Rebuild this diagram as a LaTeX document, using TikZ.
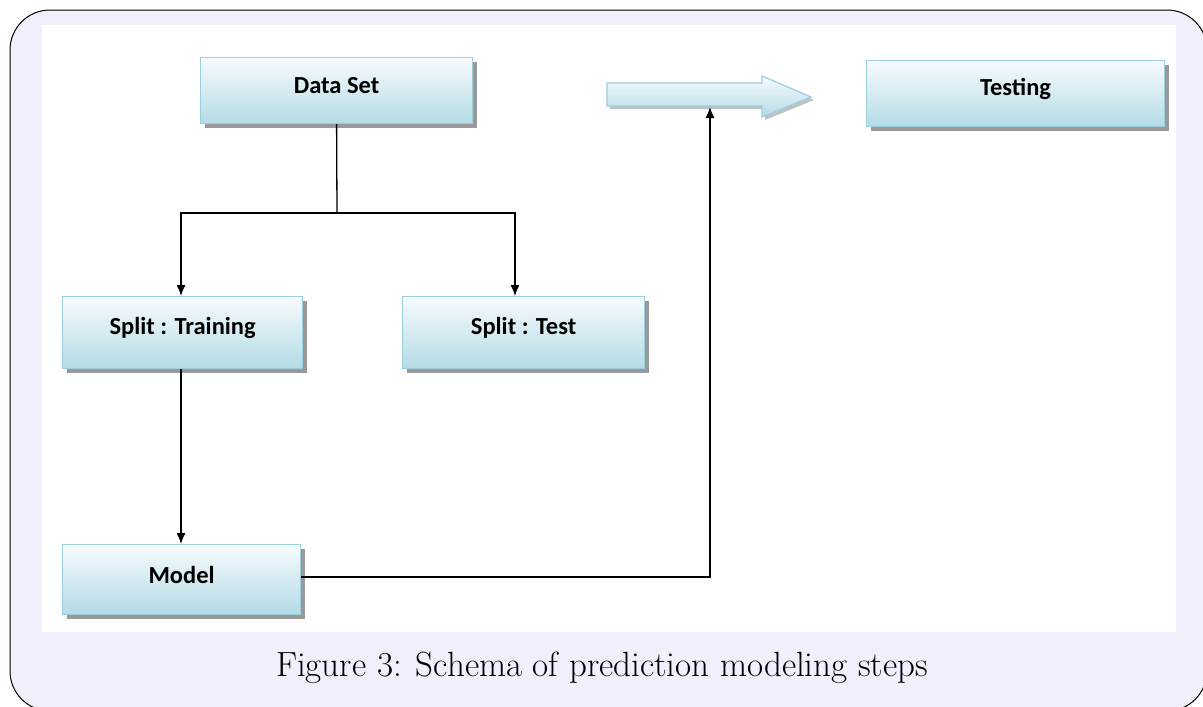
\documentclass[tikz,border=0pt]{standalone}
\usepackage{fontspec}
\newfontfamily\boxfont{Carlito}
\usetikzlibrary{shadows,arrows.meta}
\definecolor{pagebg}{HTML}{F0F0FC}
\definecolor{boxtop}{HTML}{F6FBFD}
\definecolor{boxbot}{HTML}{B4DBE6}
\definecolor{boxline}{HTML}{9ACFDF}
\tikzset{
  procbox/.style={draw=boxline, line width=1.2pt, top color=boxtop, bottom color=boxbot,
    minimum height=66pt, inner sep=0pt, anchor=north west,
    drop shadow={shadow xshift=4pt, shadow yshift=-4pt, fill=black!50, opacity=0.8},
    font=\boxfont\bfseries\fontsize{24.5}{28}\selectfont, text=black},
  link/.style={line width=1.3pt, -{Latex[length=11pt,width=9pt]}},
  plain/.style={line width=1.3pt}
}
% box labels sit a little above the middle of their box
\newcommand{\boxtext}[1]{\raisebox{0pt}[\height][\dimexpr\depth+10pt\relax]{#1}}
\begin{document}
\begin{tikzpicture}[x=1pt,y=-1pt]
\useasboundingbox (0,0) rectangle (1203,707);
% frame and background
\draw[fill=pagebg, line width=1pt, rounded corners=40pt] (10,10) rectangle (1207,711);
\fill[white] (42,25) rectangle (1176,632);

% process boxes
\node[procbox, minimum width=272pt] (ds) at (200,57) {\boxtext{Data Set}};
\node[procbox, minimum width=298pt] (te) at (866,60) {\boxtext{Testing}};
\node[procbox, minimum width=240pt, minimum height=72pt] (tr) at (62,296) {\boxtext{Split : Training}};
\node[procbox, minimum width=242pt, minimum height=72pt] (ts) at (402,296) {\boxtext{Split : Test}};
\node[procbox, minimum width=238pt, minimum height=70pt] (mo) at (62,544) {\boxtext{Model}};

% block arrow pointing towards the testing step
\draw[draw=boxline, line width=1.2pt, top color=boxtop, bottom color=boxbot,
  drop shadow={shadow xshift=3pt, shadow yshift=-3pt, fill=black!40, opacity=0.6}]
  (607,83) -- (762,83) -- (762,76) -- (811,97) -- (762,117) -- (762,106) -- (607,106) -- cycle;
\coordinate (arbase) at (710,107);

% connectors
\coordinate (split) at (337,213);
\draw[plain] (ds.south) -- (split);
\draw[link] (split) -| (tr.north -| 181,0);
\draw[link] (split) -| (ts.north -| 515,0);
\draw[link] (tr.south -| 181,0) -- (mo.north -| 181,0);
\draw[link] (mo.east |- 0,577) -| (arbase);

% caption
\node[font=\fontsize{35}{40}\selectfont] (cap) at (602,668) {Figure 3: Schema of prediction modeling steps};
\end{tikzpicture}
\end{document}
